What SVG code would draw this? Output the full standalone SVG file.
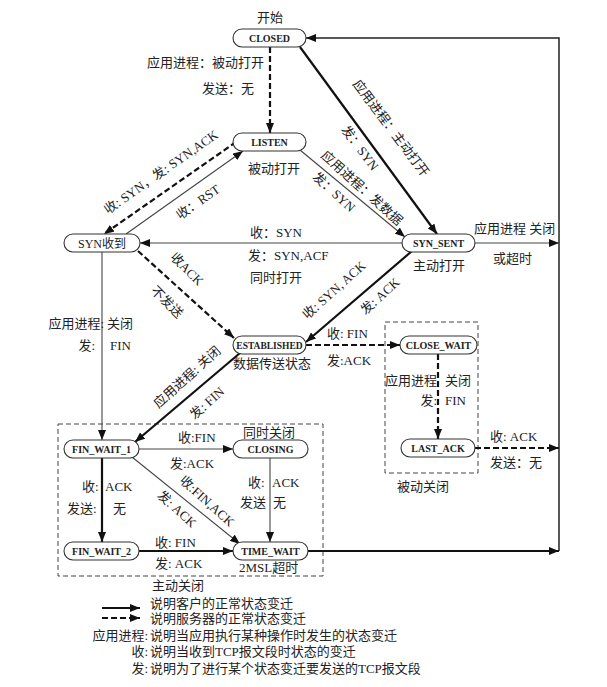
<svg xmlns="http://www.w3.org/2000/svg" width="607" height="687" viewBox="0 0 607 687">
<style>
.t{font-family:"Liberation Serif","Noto Sans CJK SC",serif;font-size:13px;fill:#222}
.n{font-family:"Liberation Serif","Noto Sans CJK SC",serif;font-size:10px;font-weight:bold;fill:#222;text-anchor:middle}
.m{text-anchor:middle}
.e{text-anchor:end}
.box{fill:#fff;stroke:#333;stroke-width:1.1}
.thick{fill:none;stroke:#111;stroke-width:2.2}
.thin{fill:none;stroke:#444;stroke-width:1.1}
.dash{fill:none;stroke:#111;stroke-width:2.2;stroke-dasharray:6,3}
.frame{fill:none;stroke:#444;stroke-width:1;stroke-dasharray:5,3}
</style>
<defs>
<marker id="a" markerUnits="userSpaceOnUse" markerWidth="10" markerHeight="8" refX="10" refY="4" orient="auto">
<path d="M0,0 L10,4 L0,8 z" fill="#111"/>
</marker>
</defs>
<rect width="607" height="687" fill="#fff"/>

<g id="frames">
<rect class="frame" x="385" y="322" width="93" height="151"/>
<rect class="frame" x="58" y="424" width="265" height="152"/>
</g>

<g id="connectors">
<path class="dash" d="M270,47 V133" marker-end="url(#a)"/>
<path class="thick" d="M300,47 L437,234" marker-end="url(#a)"/>
<path class="thin" d="M300,150 L405,237" marker-end="url(#a)"/>
<path class="dash" d="M236,142 L104,234" marker-end="url(#a)"/>
<path class="thin" d="M126,234 L243,151" marker-end="url(#a)"/>
<path class="thin" d="M402,243 H140" marker-end="url(#a)"/>
<path class="dash" d="M138,251 L234,338" marker-end="url(#a)"/>
<path class="thick" d="M412,251 L306,342" marker-end="url(#a)"/>
<path class="dash" d="M306,345 H400" marker-end="url(#a)"/>
<path class="thick" d="M240,353 L135,442" marker-end="url(#a)"/>
<path class="thin" d="M102,252 V440" marker-end="url(#a)"/>
<path class="dash" d="M438,354 V439" marker-end="url(#a)"/>
<path class="dash" d="M475,448 H559" marker-end="url(#a)"/>
<path class="thin" d="M139,449 H233" marker-end="url(#a)"/>
<path class="thin" d="M132,457 L240,544" marker-end="url(#a)"/>
<path class="thin" d="M270,458 V542" marker-end="url(#a)"/>
<path class="thick" d="M102,458 V542" marker-end="url(#a)"/>
<path class="thick" d="M139,551 H233" marker-end="url(#a)"/>
<path class="thick" d="M308,551 H559" marker-end="url(#a)"/>
<path class="thin" d="M475,243 H559" marker-end="url(#a)"/>
<path fill="none" stroke="#222" stroke-width="1.5" d="M559,551 V38 H306" marker-end="url(#a)"/>
</g>

<g id="closed"><rect class="box" x="233" y="29" width="73" height="18" rx="9"/><text class="n" x="269.5" y="41.5">CLOSED</text></g>
<g id="listen"><rect class="box" x="233" y="133" width="73" height="18" rx="9"/><text class="n" x="269.5" y="145.5">LISTEN</text></g>
<g id="synrcvd"><rect class="box" x="64" y="234" width="76" height="18" rx="9"/><text class="t m" x="102" y="247.5" style="font-size:12px">SYN收到</text></g>
<g id="synsent"><rect class="box" x="402" y="234" width="73" height="18" rx="9"/><text class="n" x="438.5" y="246.5">SYN_SENT</text></g>
<g id="established"><rect class="box" x="233" y="336" width="73" height="18" rx="9"/><text class="n" x="269.5" y="348.5" style="font-size:9.5px">ESTABLISHED</text></g>
<g id="closewait"><rect class="box" x="400" y="336" width="77" height="18" rx="9"/><text class="n" x="438.5" y="348.5">CLOSE_WAIT</text></g>
<g id="lastack"><rect class="box" x="401" y="439" width="74" height="18" rx="9"/><text class="n" x="438" y="451.5">LAST_ACK</text></g>
<g id="finwait1"><rect class="box" x="64" y="440" width="75" height="18" rx="9"/><text class="n" x="101.5" y="452.5">FIN_WAIT_1</text></g>
<g id="closing"><rect class="box" x="233" y="440" width="75" height="18" rx="9"/><text class="n" x="270.5" y="452.5">CLOSING</text></g>
<g id="finwait2"><rect class="box" x="64" y="542" width="75" height="18" rx="9"/><text class="n" x="101.5" y="554.5">FIN_WAIT_2</text></g>
<g id="timewait"><rect class="box" x="233" y="542" width="75" height="18" rx="9"/><text class="n" x="270.5" y="554.5">TIME_WAIT</text></g>

<g id="labels">
<text class="t m" x="270" y="22">开始</text>
<text class="t e" x="264" y="67">应用进程：被动打开</text>
<text class="t e" x="254" y="93">发送：无</text>
<text class="t" x="248" y="173">被动打开</text>
<text class="t" x="250" y="237">收：SYN</text>
<text class="t" x="248" y="260">发：SYN,ACF</text>
<text class="t" x="250" y="282">同时打开</text>
<text class="t" x="474" y="233">应用进程 关闭</text>
<text class="t" x="493" y="263">或超时</text>
<text class="t" x="413" y="270">主动打开</text>
<text class="t" x="327" y="338">收: FIN</text>
<text class="t" x="327" y="365">发:ACK</text>
<text class="t" x="233" y="368">数据传送状态</text>
<text class="t e" x="104" y="328">应用进程:</text>
<text class="t" x="107" y="328">关闭</text>
<text class="t e" x="95" y="350">发:</text>
<text class="t" x="110" y="350">FIN</text>
<text class="t e" x="437" y="385">应用进程</text>
<text class="t" x="445" y="385">关闭</text>
<text class="t e" x="437" y="405">发:</text>
<text class="t" x="445" y="405">FIN</text>
<text class="t" x="490" y="441">收: ACK</text>
<text class="t" x="490" y="467">发送：无</text>
<text class="t" x="397" y="491">被动关闭</text>
<text class="t" x="243" y="437">同时关闭</text>
<text class="t" x="178" y="442">收:FIN</text>
<text class="t" x="170" y="468">发:ACK</text>
<text class="t" x="248" y="487">收:</text>
<text class="t" x="272" y="487">ACK</text>
<text class="t" x="240" y="507">发送</text>
<text class="t" x="273" y="507">无</text>
<text class="t" x="82" y="491">收:</text>
<text class="t" x="105" y="491">ACK</text>
<text class="t" x="67" y="513">发送:</text>
<text class="t" x="113" y="513">无</text>
<text class="t" x="155" y="547">收: FIN</text>
<text class="t" x="155" y="568">发: ACK</text>
<text class="t" x="239" y="572">2MSL超时</text>
<text class="t" x="152" y="590">主动关闭</text>

<text class="t m" transform="translate(391,128) rotate(53)" y="4.5">应用进程：主动打开</text>
<text class="t m" transform="translate(360,148) rotate(53)" y="4.5">发：SYN</text>
<text class="t m" transform="translate(362,188) rotate(42)" y="4.5">应用进程：发数据</text>
<text class="t m" transform="translate(334,192) rotate(42)" y="4.5">发：SYN</text>
<text class="t m" transform="translate(161,172) rotate(-35)" y="4.5">收: SYN，发: SYN,ACK</text>
<text class="t m" transform="translate(198,202) rotate(-35)" y="4.5">收：RST</text>
<text class="t m" transform="translate(187,269) rotate(45)" y="4.5">收ACK</text>
<text class="t m" transform="translate(167,302) rotate(45)" y="4.5">不发送</text>
<text class="t m" transform="translate(334,290) rotate(-42)" y="4.5">收: SYN, ACK</text>
<text class="t m" transform="translate(380,296) rotate(-42)" y="4.5">发: ACK</text>
<text class="t m" transform="translate(187,377) rotate(-42)" y="4.5">应用进程: 关闭</text>
<text class="t m" transform="translate(207,403) rotate(-42)" y="4.5">发: FIN</text>
<text class="t m" transform="translate(207,501) rotate(42)" y="4.5">收:FIN,ACK</text>
<text class="t m" transform="translate(177,509) rotate(42)" y="4.5">发: ACK</text>
</g>

<g id="legend">
<path class="thick" d="M102,608 H140" marker-end="url(#a)"/>
<path class="dash" d="M102,618 H140" marker-end="url(#a)"/>
<text class="t" x="150" y="608">说明客户的正常状态变迁</text>
<text class="t" x="150" y="623">说明服务器的正常状态变迁</text>
<text class="t e" x="148" y="640">应用进程:</text>
<text class="t" x="150" y="640">说明当应用执行某种操作时发生的状态变迁</text>
<text class="t e" x="148" y="656">收:</text>
<text class="t" x="150" y="656">说明当收到TCP报文段时状态的变迁</text>
<text class="t e" x="148" y="673">发:</text>
<text class="t" x="150" y="673">说明为了进行某个状态变迁要发送的TCP报文段</text>
</g>
</svg>
